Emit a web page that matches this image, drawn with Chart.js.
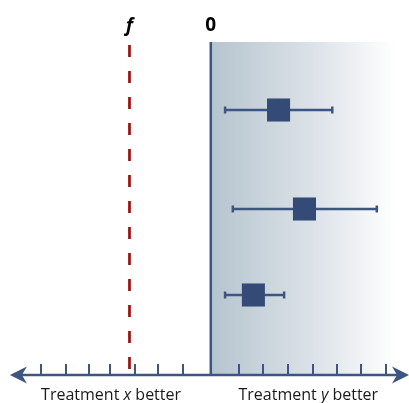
<!DOCTYPE html>
<html>
<head>
<meta charset="utf-8">
<script src="https://cdn.jsdelivr.net/npm/chart.js@4"></script>
<style>
  body { margin: 0; background: #fff; }
  #wrap { width: 409px; height: 403px; }
</style>
</head>
<body>
<div id="wrap"><canvas id="myChart" width="409" height="403"></canvas></div>
<script>
// forest plot values (x in effect units, y = row position)
var studies = ["Study 1", "Study 2", "Study 3"];
var rowY = [2.65, 1.66, 0.8];
var estimate = [2.8, 3.87, 1.76];
var lower = [0.59, 0.91, 0.59];
var upper = [5.02, 6.86, 3.03];
var fValue = -3.36;
var tickValues = [-7, -6, -5.02, -4.15, -3.13, -2.17, -1.16, 1.18, 2.17, 3.2, 4.21, 5.2, 6.21, 7.23];
var shadeTop = 3.33, shadeRight = 7.62;
var axisFrom = -8.3, axisTo = 8.19;
var sideLabels = [{x: -4.12, pre: "Treatment ", it: "x", post: " better"},
                  {x: 4.03, pre: "Treatment ", it: "y", post: " better"}];

var navy = "#344b77";
var lineBlue = "#3d5583";
var darkRed = "#9b0f0f";

var datasets = [];
datasets.push({
    type: 'scatter',
    data: studies.map(function (s, i) { return {x: estimate[i], y: rowY[i]}; }),
    pointStyle: 'rect',
    pointRadius: 16.3,
    pointBackgroundColor: navy,
    pointBorderWidth: 0
});
studies.forEach(function (s, i) {
    datasets.push({
        type: 'line',
        data: [{x: lower[i], y: rowY[i]}, {x: upper[i], y: rowY[i]}],
        borderColor: lineBlue,
        borderWidth: 2.5,
        pointStyle: 'line',
        rotation: 90,
        pointRadius: 3.5,
        pointBorderWidth: 2.5,
        pointBorderColor: lineBlue
    });
});
datasets.push({
    type: 'line',
    data: [{x: 0, y: 0}, {x: 0, y: shadeTop}],
    borderColor: lineBlue,
    borderWidth: 2.5,
    pointRadius: 0
});
datasets.push({
    type: 'line',
    data: [{x: fValue, y: shadeTop - 0.03}, {x: fValue, y: 0}],
    borderColor: darkRed,
    borderWidth: 2.7,
    borderDash: [12, 14],
    pointRadius: 0
});

var shade = {
    id: 'shade',
    beforeDatasetsDraw: function (chart) {
        var ctx = chart.ctx, xs = chart.scales.x, ys = chart.scales.y;
        var x0 = xs.getPixelForValue(0), x1 = xs.getPixelForValue(shadeRight);
        var y0 = ys.getPixelForValue(shadeTop), y1 = ys.getPixelForValue(0);
        var g = ctx.createLinearGradient(x0, 0, x1, 0);
        g.addColorStop(0, "#b6c4ce");
        g.addColorStop(0.6, "#dfe5ea");
        g.addColorStop(1, "#ffffff");
        ctx.save();
        ctx.fillStyle = g;
        ctx.fillRect(x0, y0, x1 - x0, y1 - y0);
        ctx.restore();
    }
};

var axisDecor = {
    id: 'axisDecor',
    afterDatasetsDraw: function (chart) {
        var ctx = chart.ctx, xs = chart.scales.x, ys = chart.scales.y;
        var y = ys.getPixelForValue(0);
        var a = xs.getPixelForValue(axisFrom), b = xs.getPixelForValue(axisTo);
        ctx.save();
        ctx.strokeStyle = lineBlue;
        ctx.fillStyle = lineBlue;
        ctx.lineWidth = 2.5;
        ctx.beginPath();
        ctx.moveTo(a + 6, y);
        ctx.lineTo(b - 6, y);
        ctx.stroke();
        ctx.lineWidth = 2;
        tickValues.forEach(function (v) {
            var px = Math.round(xs.getPixelForValue(v));
            ctx.beginPath();
            ctx.moveTo(px, y - 11);
            ctx.lineTo(px, y);
            ctx.stroke();
        });
        // arrow heads
        [[a, 1], [b, -1]].forEach(function (p) {
            var tip = p[0], d = p[1];
            ctx.beginPath();
            ctx.moveTo(tip, y);
            ctx.lineTo(tip + d * 17, y - 8.5);
            ctx.lineTo(tip + d * 12, y);
            ctx.lineTo(tip + d * 17, y + 8.5);
            ctx.closePath();
            ctx.fill();
        });
        // side labels
        ctx.fillStyle = "#1a1a1a";
        ctx.textBaseline = 'alphabetic';
        sideLabels.forEach(function (l) {
            var normal = "16px 'Open Sans'", ital = "italic 16px 'Open Sans'";
            ctx.font = normal;
            var w1 = ctx.measureText(l.pre).width, w3 = ctx.measureText(l.post).width;
            ctx.font = ital;
            var w2 = ctx.measureText(l.it).width;
            var x = xs.getPixelForValue(l.x) - (w1 + w2 + w3) / 2;
            ctx.textAlign = 'left';
            ctx.font = normal;
            ctx.fillText(l.pre, x, 400);
            ctx.font = ital;
            ctx.fillText(l.it, x + w1, 400);
            ctx.font = normal;
            ctx.fillText(l.post, x + w1 + w2, 400);
        });
        // top markers
        ctx.fillStyle = "#000";
        ctx.textAlign = 'center';
        ctx.font = "italic bold 19px 'Open Sans'";
        ctx.fillText("\u0192", xs.getPixelForValue(fValue), 31);
        ctx.font = "bold 19px 'Open Sans'";
        ctx.fillText("0", xs.getPixelForValue(0), 31);
        ctx.restore();
    }
};

var myChart = new Chart(document.getElementById("myChart").getContext('2d'), {
    type: 'scatter',
    data: {datasets: datasets},
    options: {
        responsive: false,
        animation: false,
        layout: {padding: 0, autoPadding: false},
        plugins: {legend: {display: false}, tooltip: {enabled: false}},
        scales: {
            x: {type: 'linear', min: -8.71, max: 8.19, display: false},
            y: {type: 'linear', min: -0.28, max: 3.75, display: false}
        }
    },
    plugins: [shade, axisDecor]
});
</script>
</body>
</html>
